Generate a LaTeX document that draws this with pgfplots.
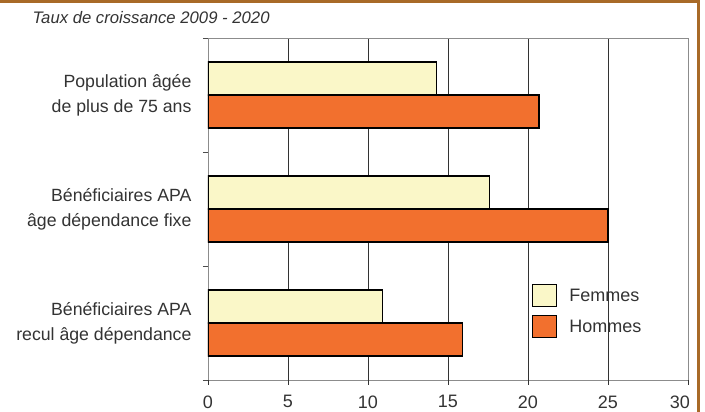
\documentclass[border=0pt]{standalone}
\usepackage{fontspec}
\setmainfont{Liberation Sans}
\usepackage{pgfplots}
\pgfplotsset{compat=1.18}

\definecolor{femmes}{HTML}{FAF7C8}
\definecolor{hommes}{HTML}{F2702E}
\definecolor{cadre}{HTML}{A86A28}
\definecolor{texte}{HTML}{333333}

\begin{document}
\begin{tikzpicture}[x=1pt,y=1pt]
\useasboundingbox (0,0) rectangle (705,412);
\begin{axis}[
  at={(208pt,32pt)}, anchor=south west,
  scale only axis,
  width=480pt, height=342pt,
  xbar, bar width=0.29,
  xmin=0, xmax=30,
  ymin=0.5, ymax=3.5,
  xtick={0,5,...,30},
  xticklabels={0,5,10,15,20,25,\makebox[0pt][r]{30\hspace*{-2pt}}},
  xtick pos=bottom,
  ytick={1,2,3},
  ytick pos=left,
  yticklabels={{Bénéficiaires APA\\recul âge dépendance},
               {Bénéficiaires APA\\âge dépendance fixe},
               {Population âgée\\de plus de 75 ans}},
  yticklabel style={align=right, font=\fontsize{17.7}{25}\selectfont, text=texte, xshift=-13pt},
  xticklabel style={font=\fontsize{18}{20}\selectfont, text=texte, yshift=-12pt},
  /pgf/number format/assume math mode=true,
  major tick length=0pt,
  xmajorgrids,
  major grid style={draw=black!80, line width=0.9pt},
  axis line style={draw=black!45, line width=0.9pt},
  extra y ticks={0.5,1.5,2.5,3.5},
  extra y tick labels={},
  extra y tick style={major tick length=5pt, tick align=outside,
    tick style={draw=black!70, line width=0.9pt}},
  extra x ticks={0,5,...,30},
  extra x tick labels={},
  extra x tick style={major tick length=5pt, tick align=outside, grid=none,
    tick style={draw=black!80, line width=0.9pt}},
  legend style={at={(0.675,0.281)}, anchor=north west, draw=none, fill=none,
    font=\fontsize{18}{20}\selectfont, text=texte,
    row sep=8pt, column sep=10pt, inner sep=0pt},
  legend cell align=left,
  legend image code/.code={\draw[#1, draw=black, line width=1.2pt] (0pt,-11pt) rectangle (24pt,11pt);},
]
\addplot[draw=black, line width=1.4pt, fill=femmes, bar shift=0.145] coordinates {
  (14.3,3) (17.6,2) (10.9,1)
};
\addlegendentry{Femmes}
\addplot[draw=black, line width=1.4pt, fill=hommes, bar shift=-0.145] coordinates {
  (20.7,3) (25.0,2) (15.9,1)
};
\addlegendentry{Hommes}
\end{axis}
\node[anchor=west, font=\fontsize{16.7}{20}\selectfont\itshape, text=texte] at (29,394) {Taux de croissance 2009 - 2020};
\draw[cadre, line width=3pt] (0,410.5) -- (698,410.5) -- (698,0);
\end{tikzpicture}
\end{document}
